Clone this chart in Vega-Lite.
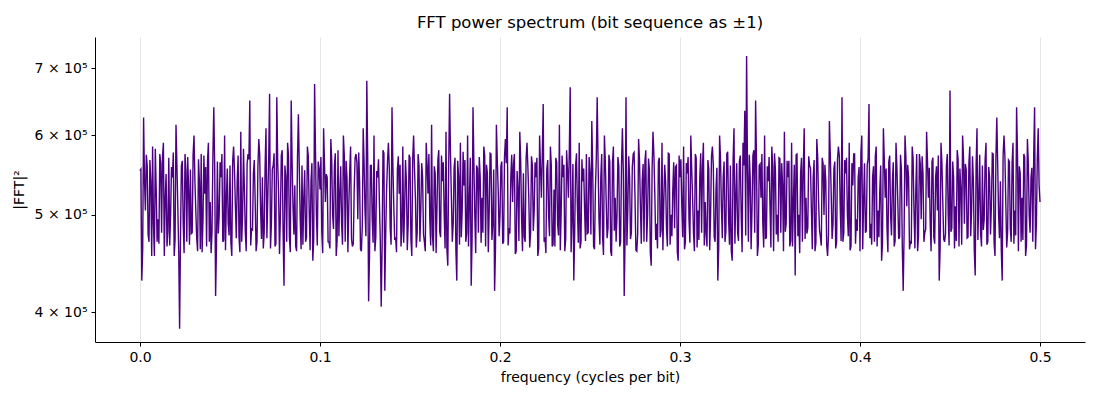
{
  "$schema": "https://vega.github.io/schema/vega-lite/v6.json",
  "width": 990,
  "height": 305,
  "autosize": "none",
  "padding": {"left": 95, "top": 37, "right": 15, "bottom": 58},
  "title": {
    "text": "FFT power spectrum (bit sequence as ±1)",
    "font": "DejaVu Sans",
    "fontSize": 16.5,
    "fontWeight": "normal",
    "color": "black",
    "offset": 6
  },
  "data": {
    "values": [
      {"f":0.000,"p":5.53e5},{"f":0.001,"p":4.30e5},{"f":0.002,"p":6.25e5},{"f":0.003,"p":5.05e5},{"f":0.004,"p":5.60e5},{"f":0.005,"p":4.70e5},{"f":0.006,"p":5.40e5},{"f":0.007,"p":5.85e5},{"f":0.008,"p":4.55e5},{"f":0.009,"p":5.30e5},
      {"f":0.010,"p":4.95e5},{"f":0.011,"p":5.75e5},{"f":0.012,"p":4.80e5},{"f":0.013,"p":5.90e5},{"f":0.014,"p":5.20e5},{"f":0.015,"p":4.65e5},{"f":0.016,"p":5.70e5},{"f":0.017,"p":5.00e5},{"f":0.018,"p":5.45e5},{"f":0.019,"p":4.55e5},
      {"f":0.020,"p":6.15e5},{"f":0.021,"p":5.10e5},{"f":0.022,"p":3.85e5},{"f":0.023,"p":5.60e5},{"f":0.024,"p":4.90e5},{"f":0.025,"p":5.75e5},{"f":0.026,"p":4.70e5},{"f":0.027,"p":5.30e5},{"f":0.028,"p":5.55e5},{"f":0.029,"p":4.80e5},
      {"f":0.030,"p":6.00e5},{"f":0.031,"p":5.05e5},{"f":0.032,"p":4.60e5},{"f":0.033,"p":5.40e5},{"f":0.034,"p":5.75e5},{"f":0.035,"p":4.95e5},{"f":0.036,"p":5.25e5},{"f":0.037,"p":4.65e5},{"f":0.038,"p":5.90e5},{"f":0.039,"p":5.15e5},
      {"f":0.040,"p":4.80e5},{"f":0.041,"p":6.40e5},{"f":0.042,"p":4.15e5},{"f":0.043,"p":5.65e5},{"f":0.044,"p":5.00e5},{"f":0.045,"p":5.45e5},{"f":0.046,"p":4.70e5},{"f":0.047,"p":6.00e5},{"f":0.048,"p":5.20e5},{"f":0.049,"p":4.90e5},
      {"f":0.050,"p":5.60e5},{"f":0.051,"p":4.55e5},{"f":0.052,"p":5.85e5},{"f":0.053,"p":5.10e5},{"f":0.054,"p":5.40e5},{"f":0.055,"p":4.75e5},{"f":0.056,"p":6.05e5},{"f":0.057,"p":5.00e5},{"f":0.058,"p":5.30e5},{"f":0.059,"p":4.60e5},
      {"f":0.060,"p":5.75e5},{"f":0.061,"p":6.50e5},{"f":0.062,"p":4.85e5},{"f":0.063,"p":5.50e5},{"f":0.064,"p":5.15e5},{"f":0.065,"p":4.70e5},{"f":0.066,"p":5.95e5},{"f":0.067,"p":5.05e5},{"f":0.068,"p":5.45e5},{"f":0.069,"p":4.80e5},
      {"f":0.070,"p":6.10e5},{"f":0.071,"p":5.20e5},{"f":0.072,"p":6.60e5},{"f":0.073,"p":4.90e5},{"f":0.074,"p":5.60e5},{"f":0.075,"p":4.65e5},{"f":0.076,"p":6.55e5},{"f":0.077,"p":5.25e5},{"f":0.078,"p":5.00e5},{"f":0.079,"p":5.80e5},
      {"f":0.080,"p":4.25e5},{"f":0.081,"p":5.45e5},{"f":0.082,"p":5.90e5},{"f":0.083,"p":4.75e5},{"f":0.084,"p":6.50e5},{"f":0.085,"p":5.10e5},{"f":0.086,"p":5.35e5},{"f":0.087,"p":4.60e5},{"f":0.088,"p":6.30e5},{"f":0.089,"p":4.95e5},
      {"f":0.090,"p":5.60e5},{"f":0.091,"p":5.20e5},{"f":0.092,"p":4.70e5},{"f":0.093,"p":5.85e5},{"f":0.094,"p":5.05e5},{"f":0.095,"p":5.40e5},{"f":0.096,"p":4.50e5},{"f":0.097,"p":6.75e5},{"f":0.098,"p":5.00e5},{"f":0.099,"p":5.65e5},
      {"f":0.100,"p":5.30e5},{"f":0.101,"p":4.80e5},{"f":0.102,"p":6.10e5},{"f":0.103,"p":5.15e5},{"f":0.104,"p":5.45e5},{"f":0.105,"p":4.70e5},{"f":0.106,"p":5.95e5},{"f":0.107,"p":5.00e5},{"f":0.108,"p":5.60e5},{"f":0.109,"p":4.55e5},
      {"f":0.110,"p":5.80e5},{"f":0.111,"p":5.25e5},{"f":0.112,"p":4.90e5},{"f":0.113,"p":6.00e5},{"f":0.114,"p":4.70e5},{"f":0.115,"p":5.45e5},{"f":0.116,"p":5.10e5},{"f":0.117,"p":5.85e5},{"f":0.118,"p":4.65e5},{"f":0.119,"p":5.30e5},
      {"f":0.120,"p":5.75e5},{"f":0.121,"p":4.95e5},{"f":0.122,"p":5.40e5},{"f":0.123,"p":4.60e5},{"f":0.124,"p":6.10e5},{"f":0.125,"p":5.05e5},{"f":0.126,"p":6.80e5},{"f":0.127,"p":4.10e5},{"f":0.128,"p":5.60e5},{"f":0.129,"p":4.95e5},
      {"f":0.130,"p":6.00e5},{"f":0.131,"p":4.75e5},{"f":0.132,"p":5.45e5},{"f":0.133,"p":5.15e5},{"f":0.134,"p":4.05e5},{"f":0.135,"p":5.80e5},{"f":0.136,"p":4.20e5},{"f":0.137,"p":5.30e5},{"f":0.138,"p":5.90e5},{"f":0.139,"p":4.85e5},
      {"f":0.140,"p":6.40e5},{"f":0.141,"p":5.10e5},{"f":0.142,"p":4.75e5},{"f":0.143,"p":5.55e5},{"f":0.144,"p":5.25e5},{"f":0.145,"p":4.65e5},{"f":0.146,"p":5.85e5},{"f":0.147,"p":5.05e5},{"f":0.148,"p":5.40e5},{"f":0.149,"p":4.90e5},
      {"f":0.150,"p":5.70e5},{"f":0.151,"p":4.55e5},{"f":0.152,"p":6.00e5},{"f":0.153,"p":5.20e5},{"f":0.154,"p":4.80e5},{"f":0.155,"p":5.60e5},{"f":0.156,"p":5.05e5},{"f":0.157,"p":5.45e5},{"f":0.158,"p":4.70e5},{"f":0.159,"p":5.90e5},
      {"f":0.160,"p":5.25e5},{"f":0.161,"p":4.95e5},{"f":0.162,"p":6.15e5},{"f":0.163,"p":4.60e5},{"f":0.164,"p":5.50e5},{"f":0.165,"p":5.10e5},{"f":0.166,"p":5.80e5},{"f":0.167,"p":4.75e5},{"f":0.168,"p":5.40e5},{"f":0.169,"p":5.00e5},
      {"f":0.170,"p":6.05e5},{"f":0.171,"p":4.45e5},{"f":0.172,"p":6.60e5},{"f":0.173,"p":5.20e5},{"f":0.174,"p":4.90e5},{"f":0.175,"p":5.70e5},{"f":0.176,"p":4.30e5},{"f":0.177,"p":5.45e5},{"f":0.178,"p":5.90e5},{"f":0.179,"p":5.05e5},
      {"f":0.180,"p":5.35e5},{"f":0.181,"p":4.70e5},{"f":0.182,"p":6.00e5},{"f":0.183,"p":5.15e5},{"f":0.184,"p":4.25e5},{"f":0.185,"p":6.40e5},{"f":0.186,"p":5.00e5},{"f":0.187,"p":5.60e5},{"f":0.188,"p":4.80e5},{"f":0.189,"p":5.45e5},
      {"f":0.190,"p":5.20e5},{"f":0.191,"p":5.85e5},{"f":0.192,"p":4.65e5},{"f":0.193,"p":5.50e5},{"f":0.194,"p":5.05e5},{"f":0.195,"p":5.75e5},{"f":0.196,"p":4.90e5},{"f":0.197,"p":4.20e5},{"f":0.198,"p":6.15e5},{"f":0.199,"p":5.30e5},
      {"f":0.200,"p":5.00e5},{"f":0.201,"p":5.65e5},{"f":0.202,"p":4.70e5},{"f":0.203,"p":5.95e5},{"f":0.204,"p":6.40e5},{"f":0.205,"p":4.85e5},{"f":0.206,"p":5.45e5},{"f":0.207,"p":5.15e5},{"f":0.208,"p":5.75e5},{"f":0.209,"p":4.60e5},
      {"f":0.210,"p":5.30e5},{"f":0.211,"p":6.05e5},{"f":0.212,"p":4.95e5},{"f":0.213,"p":5.50e5},{"f":0.214,"p":4.70e5},{"f":0.215,"p":5.90e5},{"f":0.216,"p":5.20e5},{"f":0.217,"p":4.80e5},{"f":0.218,"p":5.60e5},{"f":0.219,"p":5.05e5},
      {"f":0.220,"p":5.45e5},{"f":0.221,"p":4.55e5},{"f":0.222,"p":6.00e5},{"f":0.223,"p":5.20e5},{"f":0.224,"p":6.45e5},{"f":0.225,"p":4.75e5},{"f":0.226,"p":5.55e5},{"f":0.227,"p":5.00e5},{"f":0.228,"p":5.85e5},{"f":0.229,"p":4.65e5},
      {"f":0.230,"p":5.30e5},{"f":0.231,"p":5.70e5},{"f":0.232,"p":4.90e5},{"f":0.233,"p":6.15e5},{"f":0.234,"p":5.05e5},{"f":0.235,"p":5.45e5},{"f":0.236,"p":4.60e5},{"f":0.237,"p":5.80e5},{"f":0.238,"p":5.20e5},{"f":0.239,"p":6.70e5},
      {"f":0.240,"p":4.95e5},{"f":0.241,"p":4.30e5},{"f":0.242,"p":5.60e5},{"f":0.243,"p":5.10e5},{"f":0.244,"p":5.90e5},{"f":0.245,"p":4.70e5},{"f":0.246,"p":5.40e5},{"f":0.247,"p":5.05e5},{"f":0.248,"p":5.75e5},{"f":0.249,"p":4.80e5},
      {"f":0.250,"p":5.50e5},{"f":0.251,"p":6.20e5},{"f":0.252,"p":4.65e5},{"f":0.253,"p":5.30e5},{"f":0.254,"p":6.55e5},{"f":0.255,"p":4.95e5},{"f":0.256,"p":5.45e5},{"f":0.257,"p":4.75e5},{"f":0.258,"p":6.00e5},{"f":0.259,"p":5.15e5},
      {"f":0.260,"p":4.85e5},{"f":0.261,"p":5.65e5},{"f":0.262,"p":4.55e5},{"f":0.263,"p":5.85e5},{"f":0.264,"p":5.20e5},{"f":0.265,"p":5.00e5},{"f":0.266,"p":5.60e5},{"f":0.267,"p":4.70e5},{"f":0.268,"p":6.10e5},{"f":0.269,"p":4.15e5},
      {"f":0.270,"p":6.55e5},{"f":0.271,"p":5.05e5},{"f":0.272,"p":5.45e5},{"f":0.273,"p":4.80e5},{"f":0.274,"p":5.75e5},{"f":0.275,"p":5.20e5},{"f":0.276,"p":4.60e5},{"f":0.277,"p":5.95e5},{"f":0.278,"p":5.10e5},{"f":0.279,"p":5.40e5},
      {"f":0.280,"p":4.70e5},{"f":0.281,"p":5.80e5},{"f":0.282,"p":5.00e5},{"f":0.283,"p":5.55e5},{"f":0.284,"p":4.45e5},{"f":0.285,"p":6.05e5},{"f":0.286,"p":5.25e5},{"f":0.287,"p":4.90e5},{"f":0.288,"p":5.65e5},{"f":0.289,"p":4.75e5},
      {"f":0.290,"p":5.90e5},{"f":0.291,"p":5.15e5},{"f":0.292,"p":5.40e5},{"f":0.293,"p":4.65e5},{"f":0.294,"p":5.75e5},{"f":0.295,"p":5.00e5},{"f":0.296,"p":5.30e5},{"f":0.297,"p":4.85e5},{"f":0.298,"p":5.60e5},{"f":0.299,"p":4.50e5},
      {"f":0.300,"p":5.45e5},{"f":0.301,"p":5.10e5},{"f":0.302,"p":5.85e5},{"f":0.303,"p":4.70e5},{"f":0.304,"p":5.50e5},{"f":0.305,"p":4.95e5},{"f":0.306,"p":6.00e5},{"f":0.307,"p":5.20e5},{"f":0.308,"p":4.60e5},{"f":0.309,"p":5.70e5},
      {"f":0.310,"p":5.05e5},{"f":0.311,"p":5.45e5},{"f":0.312,"p":4.80e5},{"f":0.313,"p":5.90e5},{"f":0.314,"p":5.15e5},{"f":0.315,"p":4.65e5},{"f":0.316,"p":5.55e5},{"f":0.317,"p":5.00e5},{"f":0.318,"p":5.85e5},{"f":0.319,"p":4.75e5},
      {"f":0.320,"p":5.30e5},{"f":0.321,"p":4.30e5},{"f":0.322,"p":6.00e5},{"f":0.323,"p":5.10e5},{"f":0.324,"p":5.45e5},{"f":0.325,"p":4.70e5},{"f":0.326,"p":5.75e5},{"f":0.327,"p":4.95e5},{"f":0.328,"p":5.60e5},{"f":0.329,"p":4.50e5},
      {"f":0.330,"p":6.10e5},{"f":0.331,"p":5.20e5},{"f":0.332,"p":4.80e5},{"f":0.333,"p":5.65e5},{"f":0.334,"p":5.00e5},{"f":0.335,"p":5.90e5},{"f":0.336,"p":6.35e5},{"f":0.337,"p":7.20e5},{"f":0.338,"p":4.70e5},{"f":0.339,"p":5.45e5},
      {"f":0.340,"p":5.05e5},{"f":0.341,"p":5.80e5},{"f":0.342,"p":6.50e5},{"f":0.343,"p":4.55e5},{"f":0.344,"p":5.60e5},{"f":0.345,"p":5.20e5},{"f":0.346,"p":4.90e5},{"f":0.347,"p":6.00e5},{"f":0.348,"p":4.75e5},{"f":0.349,"p":5.40e5},
      {"f":0.350,"p":5.10e5},{"f":0.351,"p":5.85e5},{"f":0.352,"p":4.60e5},{"f":0.353,"p":5.55e5},{"f":0.354,"p":5.00e5},{"f":0.355,"p":5.70e5},{"f":0.356,"p":4.80e5},{"f":0.357,"p":5.35e5},{"f":0.358,"p":6.05e5},{"f":0.359,"p":4.90e5},
      {"f":0.360,"p":5.45e5},{"f":0.361,"p":4.65e5},{"f":0.362,"p":5.90e5},{"f":0.363,"p":5.15e5},{"f":0.364,"p":4.35e5},{"f":0.365,"p":5.75e5},{"f":0.366,"p":5.00e5},{"f":0.367,"p":5.50e5},{"f":0.368,"p":4.70e5},{"f":0.369,"p":6.10e5},
      {"f":0.370,"p":5.20e5},{"f":0.371,"p":4.85e5},{"f":0.372,"p":5.60e5},{"f":0.373,"p":5.05e5},{"f":0.374,"p":5.45e5},{"f":0.375,"p":4.60e5},{"f":0.376,"p":5.95e5},{"f":0.377,"p":5.15e5},{"f":0.378,"p":4.75e5},{"f":0.379,"p":5.70e5},
      {"f":0.380,"p":5.00e5},{"f":0.381,"p":5.40e5},{"f":0.382,"p":4.55e5},{"f":0.383,"p":6.20e5},{"f":0.384,"p":5.25e5},{"f":0.385,"p":4.90e5},{"f":0.386,"p":5.65e5},{"f":0.387,"p":4.70e5},{"f":0.388,"p":5.85e5},{"f":0.389,"p":5.10e5},
      {"f":0.390,"p":6.55e5},{"f":0.391,"p":4.80e5},{"f":0.392,"p":5.50e5},{"f":0.393,"p":5.00e5},{"f":0.394,"p":5.90e5},{"f":0.395,"p":4.65e5},{"f":0.396,"p":5.35e5},{"f":0.397,"p":5.75e5},{"f":0.398,"p":4.95e5},{"f":0.399,"p":5.45e5},
      {"f":0.400,"p":4.60e5},{"f":0.401,"p":6.00e5},{"f":0.402,"p":5.15e5},{"f":0.403,"p":4.80e5},{"f":0.404,"p":5.60e5},{"f":0.405,"p":6.45e5},{"f":0.406,"p":4.90e5},{"f":0.407,"p":5.45e5},{"f":0.408,"p":4.70e5},{"f":0.409,"p":5.85e5},
      {"f":0.410,"p":5.05e5},{"f":0.411,"p":5.30e5},{"f":0.412,"p":4.50e5},{"f":0.413,"p":6.10e5},{"f":0.414,"p":5.20e5},{"f":0.415,"p":4.85e5},{"f":0.416,"p":5.65e5},{"f":0.417,"p":5.00e5},{"f":0.418,"p":5.40e5},{"f":0.419,"p":4.65e5},
      {"f":0.420,"p":5.90e5},{"f":0.421,"p":5.15e5},{"f":0.422,"p":4.75e5},{"f":0.423,"p":5.55e5},{"f":0.424,"p":4.20e5},{"f":0.425,"p":6.00e5},{"f":0.426,"p":5.10e5},{"f":0.427,"p":5.45e5},{"f":0.428,"p":4.70e5},{"f":0.429,"p":5.85e5},
      {"f":0.430,"p":5.05e5},{"f":0.431,"p":5.30e5},{"f":0.432,"p":4.60e5},{"f":0.433,"p":5.75e5},{"f":0.434,"p":4.95e5},{"f":0.435,"p":5.50e5},{"f":0.436,"p":4.80e5},{"f":0.437,"p":6.05e5},{"f":0.438,"p":5.20e5},{"f":0.439,"p":4.90e5},
      {"f":0.440,"p":5.65e5},{"f":0.441,"p":4.75e5},{"f":0.442,"p":5.45e5},{"f":0.443,"p":5.05e5},{"f":0.444,"p":4.30e5},{"f":0.445,"p":5.90e5},{"f":0.446,"p":5.15e5},{"f":0.447,"p":4.70e5},{"f":0.448,"p":5.60e5},{"f":0.449,"p":5.00e5},
      {"f":0.450,"p":6.65e5},{"f":0.451,"p":4.85e5},{"f":0.452,"p":5.45e5},{"f":0.453,"p":5.10e5},{"f":0.454,"p":5.80e5},{"f":0.455,"p":4.65e5},{"f":0.456,"p":5.30e5},{"f":0.457,"p":6.00e5},{"f":0.458,"p":4.90e5},{"f":0.459,"p":5.55e5},
      {"f":0.460,"p":4.75e5},{"f":0.461,"p":5.85e5},{"f":0.462,"p":5.05e5},{"f":0.463,"p":5.40e5},{"f":0.464,"p":4.35e5},{"f":0.465,"p":6.10e5},{"f":0.466,"p":5.20e5},{"f":0.467,"p":4.80e5},{"f":0.468,"p":5.60e5},{"f":0.469,"p":4.95e5},
      {"f":0.470,"p":5.90e5},{"f":0.471,"p":4.70e5},{"f":0.472,"p":5.45e5},{"f":0.473,"p":5.10e5},{"f":0.474,"p":5.75e5},{"f":0.475,"p":4.55e5},{"f":0.476,"p":6.25e5},{"f":0.477,"p":5.00e5},{"f":0.478,"p":5.40e5},{"f":0.479,"p":4.30e5},
      {"f":0.480,"p":6.00e5},{"f":0.481,"p":5.15e5},{"f":0.482,"p":4.80e5},{"f":0.483,"p":5.65e5},{"f":0.484,"p":4.70e5},{"f":0.485,"p":5.90e5},{"f":0.486,"p":5.05e5},{"f":0.487,"p":6.40e5},{"f":0.488,"p":4.60e5},{"f":0.489,"p":5.50e5},
      {"f":0.490,"p":5.20e5},{"f":0.491,"p":5.75e5},{"f":0.492,"p":4.55e5},{"f":0.493,"p":5.95e5},{"f":0.494,"p":5.00e5},{"f":0.495,"p":5.45e5},{"f":0.496,"p":4.70e5},{"f":0.497,"p":6.40e5},{"f":0.498,"p":4.90e5},{"f":0.499,"p":6.10e5},
      {"f":0.500,"p":5.15e5},
      {"f":0.0005,"p":5.55e5},{"f":0.0015,"p":4.62e5},{"f":0.0025,"p":5.41e5},{"f":0.0035,"p":5.74e5},{"f":0.0045,"p":4.78e5},{"f":0.0055,"p":5.67e5},{"f":0.0065,"p":4.55e5},{"f":0.0075,"p":4.89e5},{"f":0.0085,"p":5.82e5},{"f":0.0095,"p":4.70e5},
      {"f":0.0105,"p":4.68e5},{"f":0.0115,"p":5.63e5},{"f":0.0125,"p":5.71e5},{"f":0.0135,"p":4.55e5},{"f":0.0145,"p":5.49e5},{"f":0.0155,"p":4.82e5},{"f":0.0165,"p":4.66e5},{"f":0.0175,"p":5.58e5},{"f":0.0185,"p":5.77e5},{"f":0.0195,"p":4.73e5},
      {"f":0.0205,"p":5.62e5},{"f":0.0215,"p":4.61e5},{"f":0.0225,"p":4.76e5},{"f":0.0235,"p":5.66e5},{"f":0.0245,"p":4.58e5},{"f":0.0255,"p":5.53e5},{"f":0.0265,"p":5.71e5},{"f":0.0275,"p":4.67e5},{"f":0.0285,"p":4.79e5},{"f":0.0295,"p":5.74e5},
      {"f":0.0305,"p":5.41e5},{"f":0.0315,"p":4.74e5},{"f":0.0325,"p":5.68e5},{"f":0.0335,"p":4.62e5},{"f":0.0345,"p":4.59e5},{"f":0.0355,"p":5.73e5},{"f":0.0365,"p":5.58e5},{"f":0.0375,"p":5.66e5},{"f":0.0385,"p":4.70e5},{"f":0.0395,"p":4.58e5},
      {"f":0.0405,"p":5.73e5},{"f":0.0415,"p":5.58e5},{"f":0.0425,"p":4.66e5},{"f":0.0435,"p":4.79e5},{"f":0.0445,"p":5.64e5},{"f":0.0455,"p":5.75e5},{"f":0.0465,"p":4.72e5},{"f":0.0475,"p":4.61e5},{"f":0.0485,"p":5.56e5},{"f":0.0495,"p":4.77e5},
      {"f":0.0505,"p":4.69e5},{"f":0.0515,"p":5.66e5},{"f":0.0525,"p":5.54e5},{"f":0.0535,"p":4.74e5},{"f":0.0545,"p":5.73e5},{"f":0.0555,"p":4.59e5},{"f":0.0565,"p":4.70e5},{"f":0.0575,"p":5.82e5},{"f":0.0585,"p":4.81e5},{"f":0.0595,"p":5.62e5},
      {"f":0.0605,"p":5.68e5},{"f":0.0615,"p":4.66e5},{"f":0.0625,"p":4.82e5},{"f":0.0635,"p":5.67e5},{"f":0.0645,"p":4.60e5},{"f":0.0655,"p":5.57e5},{"f":0.0665,"p":5.74e5},{"f":0.0675,"p":4.73e5},{"f":0.0685,"p":4.63e5},{"f":0.0695,"p":5.59e5},
      {"f":0.0705,"p":4.74e5},{"f":0.0715,"p":5.69e5},{"f":0.0725,"p":4.63e5},{"f":0.0735,"p":5.55e5},{"f":0.0745,"p":5.76e5},{"f":0.0755,"p":4.68e5},{"f":0.0765,"p":5.64e5},{"f":0.0775,"p":4.57e5},{"f":0.0785,"p":5.73e5},{"f":0.0795,"p":4.80e5},
      {"f":0.0805,"p":5.60e5},{"f":0.0815,"p":4.70e5},{"f":0.0825,"p":5.73e5},{"f":0.0835,"p":4.59e5},{"f":0.0845,"p":5.66e5},{"f":0.0855,"p":4.78e5},{"f":0.0865,"p":4.65e5},{"f":0.0875,"p":5.71e5},{"f":0.0885,"p":5.57e5},{"f":0.0895,"p":4.62e5},
      {"f":0.0905,"p":4.67e5},{"f":0.0915,"p":5.54e5},{"f":0.0925,"p":4.75e5},{"f":0.0935,"p":5.72e5},{"f":0.0945,"p":4.61e5},{"f":0.0955,"p":5.63e5},{"f":0.0965,"p":4.72e5},{"f":0.0975,"p":5.78e5},{"f":0.0985,"p":4.66e5},{"f":0.0995,"p":5.56e5},
      {"f":0.1005,"p":5.71e5},{"f":0.1015,"p":4.58e5},{"f":0.1025,"p":5.62e5},{"f":0.1035,"p":5.49e5},{"f":0.1045,"p":4.70e5},{"f":0.1055,"p":4.63e5},{"f":0.1065,"p":5.68e5},{"f":0.1075,"p":4.84e5},{"f":0.1085,"p":5.76e5},{"f":0.1095,"p":4.71e5},
      {"f":0.1105,"p":4.76e5},{"f":0.1115,"p":5.59e5},{"f":0.1125,"p":4.67e5},{"f":0.1135,"p":5.73e5},{"f":0.1145,"p":5.66e5},{"f":0.1155,"p":4.59e5},{"f":0.1165,"p":5.52e5},{"f":0.1175,"p":4.73e5},{"f":0.1185,"p":4.68e5},{"f":0.1195,"p":5.70e5},
      {"f":0.1205,"p":5.64e5},{"f":0.1215,"p":5.77e5},{"f":0.1225,"p":4.62e5},{"f":0.1235,"p":4.88e5},{"f":0.1245,"p":5.63e5},{"f":0.1255,"p":4.76e5},{"f":0.1265,"p":5.71e5},{"f":0.1275,"p":4.55e5},{"f":0.1285,"p":5.60e5},{"f":0.1295,"p":4.69e5},
      {"f":0.1305,"p":4.60e5},{"f":0.1315,"p":5.53e5},{"f":0.1325,"p":5.68e5},{"f":0.1335,"p":4.71e5},{"f":0.1345,"p":4.64e5},{"f":0.1355,"p":5.76e5},{"f":0.1365,"p":4.78e5},{"f":0.1375,"p":5.65e5},{"f":0.1385,"p":5.57e5},{"f":0.1395,"p":4.67e5},
      {"f":0.1405,"p":5.58e5},{"f":0.1415,"p":4.72e5},{"f":0.1425,"p":4.59e5},{"f":0.1435,"p":5.72e5},{"f":0.1445,"p":5.61e5},{"f":0.1455,"p":4.83e5},{"f":0.1465,"p":4.69e5},{"f":0.1475,"p":5.67e5},{"f":0.1485,"p":4.61e5},{"f":0.1495,"p":5.74e5},
      {"f":0.1505,"p":4.73e5},{"f":0.1515,"p":5.69e5},{"f":0.1525,"p":5.56e5},{"f":0.1535,"p":4.64e5},{"f":0.1545,"p":5.75e5},{"f":0.1555,"p":4.70e5},{"f":0.1565,"p":5.63e5},{"f":0.1575,"p":4.78e5},{"f":0.1585,"p":4.60e5},{"f":0.1595,"p":5.61e5},
      {"f":0.1605,"p":5.75e5},{"f":0.1615,"p":4.66e5},{"f":0.1625,"p":4.77e5},{"f":0.1635,"p":5.59e5},{"f":0.1645,"p":4.58e5},{"f":0.1655,"p":5.68e5},{"f":0.1665,"p":4.81e5},{"f":0.1675,"p":5.73e5},{"f":0.1685,"p":5.64e5},{"f":0.1695,"p":4.63e5},
      {"f":0.1705,"p":4.62e5},{"f":0.1715,"p":5.60e5},{"f":0.1725,"p":5.74e5},{"f":0.1735,"p":4.70e5},{"f":0.1745,"p":5.57e5},{"f":0.1755,"p":4.61e5},{"f":0.1765,"p":5.66e5},{"f":0.1775,"p":4.67e5},{"f":0.1785,"p":4.75e5},{"f":0.1795,"p":5.78e5},
      {"f":0.1805,"p":5.67e5},{"f":0.1815,"p":4.79e5},{"f":0.1825,"p":4.65e5},{"f":0.1835,"p":5.70e5},{"f":0.1845,"p":4.74e5},{"f":0.1855,"p":5.62e5},{"f":0.1865,"p":4.58e5},{"f":0.1875,"p":5.56e5},{"f":0.1885,"p":5.71e5},{"f":0.1895,"p":4.69e5},
      {"f":0.1905,"p":4.80e5},{"f":0.1915,"p":5.73e5},{"f":0.1925,"p":5.61e5},{"f":0.1935,"p":4.59e5},{"f":0.1945,"p":5.76e5},{"f":0.1955,"p":4.72e5},{"f":0.1965,"p":5.55e5},{"f":0.1975,"p":4.63e5},{"f":0.1985,"p":5.67e5},{"f":0.1995,"p":4.76e5},
      {"f":0.2005,"p":5.59e5},{"f":0.2015,"p":4.68e5},{"f":0.2025,"p":5.71e5},{"f":0.2035,"p":5.63e5},{"f":0.2045,"p":4.66e5},{"f":0.2055,"p":4.79e5},{"f":0.2065,"p":5.74e5},{"f":0.2075,"p":5.62e5},{"f":0.2085,"p":4.57e5},{"f":0.2095,"p":5.53e5},
      {"f":0.2105,"p":4.71e5},{"f":0.2115,"p":5.66e5},{"f":0.2125,"p":4.60e5},{"f":0.2135,"p":4.75e5},{"f":0.2145,"p":5.69e5},{"f":0.2155,"p":5.57e5},{"f":0.2165,"p":4.64e5},{"f":0.2175,"p":5.72e5},{"f":0.2185,"p":4.82e5},{"f":0.2195,"p":5.64e5},
      {"f":0.2205,"p":5.70e5},{"f":0.2215,"p":4.63e5},{"f":0.2225,"p":5.58e5},{"f":0.2235,"p":5.75e5},{"f":0.2245,"p":4.70e5},{"f":0.2255,"p":4.58e5},{"f":0.2265,"p":5.67e5},{"f":0.2275,"p":4.76e5},{"f":0.2285,"p":5.60e5},{"f":0.2295,"p":4.67e5},
      {"f":0.2305,"p":4.65e5},{"f":0.2315,"p":5.64e5},{"f":0.2325,"p":4.77e5},{"f":0.2335,"p":4.61e5},{"f":0.2345,"p":5.73e5},{"f":0.2355,"p":5.61e5},{"f":0.2365,"p":4.73e5},{"f":0.2375,"p":5.54e5},{"f":0.2385,"p":5.78e5},{"f":0.2395,"p":4.59e5},
      {"f":0.2405,"p":5.62e5},{"f":0.2415,"p":4.81e5},{"f":0.2425,"p":5.76e5},{"f":0.2435,"p":4.69e5},{"f":0.2445,"p":4.63e5},{"f":0.2455,"p":5.68e5},{"f":0.2465,"p":5.56e5},{"f":0.2475,"p":4.71e5},{"f":0.2485,"p":4.79e5},{"f":0.2495,"p":5.71e5},
      {"f":0.2505,"p":4.78e5},{"f":0.2515,"p":5.57e5},{"f":0.2525,"p":4.62e5},{"f":0.2535,"p":5.69e5},{"f":0.2545,"p":5.63e5},{"f":0.2555,"p":4.67e5},{"f":0.2565,"p":5.75e5},{"f":0.2575,"p":4.56e5},{"f":0.2585,"p":5.66e5},{"f":0.2595,"p":4.74e5},
      {"f":0.2605,"p":5.74e5},{"f":0.2615,"p":4.60e5},{"f":0.2625,"p":5.64e5},{"f":0.2635,"p":4.82e5},{"f":0.2645,"p":4.70e5},{"f":0.2655,"p":5.71e5},{"f":0.2665,"p":4.65e5},{"f":0.2675,"p":5.60e5},{"f":0.2685,"p":5.53e5},{"f":0.2695,"p":4.77e5},
      {"f":0.2705,"p":4.66e5},{"f":0.2715,"p":5.72e5},{"f":0.2725,"p":4.73e5},{"f":0.2735,"p":5.58e5},{"f":0.2745,"p":5.77e5},{"f":0.2755,"p":4.61e5},{"f":0.2765,"p":4.79e5},{"f":0.2775,"p":5.67e5},{"f":0.2785,"p":4.68e5},{"f":0.2795,"p":5.62e5},
      {"f":0.2805,"p":5.65e5},{"f":0.2815,"p":4.70e5},{"f":0.2825,"p":5.69e5},{"f":0.2835,"p":4.59e5},{"f":0.2845,"p":5.55e5},{"f":0.2855,"p":5.74e5},{"f":0.2865,"p":4.72e5},{"f":0.2875,"p":4.63e5},{"f":0.2885,"p":5.70e5},{"f":0.2895,"p":4.83e5},
      {"f":0.2905,"p":4.61e5},{"f":0.2915,"p":5.61e5},{"f":0.2925,"p":4.84e5},{"f":0.2935,"p":5.76e5},{"f":0.2945,"p":4.67e5},{"f":0.2955,"p":4.76e5},{"f":0.2965,"p":5.64e5},{"f":0.2975,"p":5.58e5},{"f":0.2985,"p":4.59e5},{"f":0.2995,"p":5.73e5},
      {"f":0.3005,"p":5.68e5},{"f":0.3015,"p":4.75e5},{"f":0.3025,"p":4.62e5},{"f":0.3035,"p":5.63e5},{"f":0.3045,"p":5.71e5},{"f":0.3055,"p":4.69e5},{"f":0.3065,"p":5.56e5},{"f":0.3075,"p":4.80e5},{"f":0.3085,"p":5.75e5},{"f":0.3095,"p":4.64e5},
      {"f":0.3105,"p":4.72e5},{"f":0.3115,"p":5.76e5},{"f":0.3125,"p":5.59e5},{"f":0.3135,"p":4.66e5},{"f":0.3145,"p":4.78e5},{"f":0.3155,"p":5.67e5},{"f":0.3165,"p":4.61e5},{"f":0.3175,"p":5.72e5},{"f":0.3185,"p":5.61e5},{"f":0.3195,"p":4.70e5},
      {"f":0.3205,"p":5.57e5},{"f":0.3215,"p":4.63e5},{"f":0.3225,"p":5.70e5},{"f":0.3235,"p":4.74e5},{"f":0.3245,"p":5.65e5},{"f":0.3255,"p":4.82e5},{"f":0.3265,"p":5.78e5},{"f":0.3275,"p":4.67e5},{"f":0.3285,"p":4.60e5},{"f":0.3295,"p":5.68e5},
      {"f":0.3305,"p":4.68e5},{"f":0.3315,"p":5.63e5},{"f":0.3325,"p":4.71e5},{"f":0.3335,"p":5.73e5},{"f":0.3345,"p":4.59e5},{"f":0.3355,"p":5.60e5},{"f":0.3365,"p":4.77e5},{"f":0.3375,"p":5.54e5},{"f":0.3385,"p":5.74e5},{"f":0.3395,"p":4.62e5},
      {"f":0.3405,"p":5.73e5},{"f":0.3415,"p":4.80e5},{"f":0.3425,"p":5.67e5},{"f":0.3435,"p":4.67e5},{"f":0.3445,"p":5.62e5},{"f":0.3455,"p":5.75e5},{"f":0.3465,"p":4.64e5},{"f":0.3475,"p":4.73e5},{"f":0.3485,"p":5.59e5},{"f":0.3495,"p":5.71e5},
      {"f":0.3505,"p":4.64e5},{"f":0.3515,"p":5.58e5},{"f":0.3525,"p":5.76e5},{"f":0.3535,"p":4.78e5},{"f":0.3545,"p":4.70e5},{"f":0.3555,"p":5.69e5},{"f":0.3565,"p":5.63e5},{"f":0.3575,"p":4.60e5},{"f":0.3585,"p":4.81e5},{"f":0.3595,"p":5.66e5},
      {"f":0.3605,"p":5.66e5},{"f":0.3615,"p":4.71e5},{"f":0.3625,"p":4.65e5},{"f":0.3635,"p":5.61e5},{"f":0.3645,"p":5.74e5},{"f":0.3655,"p":4.76e5},{"f":0.3665,"p":4.58e5},{"f":0.3675,"p":5.70e5},{"f":0.3685,"p":5.57e5},{"f":0.3695,"p":4.73e5},
      {"f":0.3705,"p":4.79e5},{"f":0.3715,"p":5.72e5},{"f":0.3725,"p":5.57e5},{"f":0.3735,"p":4.62e5},{"f":0.3745,"p":5.67e5},{"f":0.3755,"p":4.69e5},{"f":0.3765,"p":5.71e5},{"f":0.3775,"p":4.83e5},{"f":0.3785,"p":4.66e5},{"f":0.3795,"p":5.62e5},
      {"f":0.3805,"p":5.61e5},{"f":0.3815,"p":4.66e5},{"f":0.3825,"p":4.78e5},{"f":0.3835,"p":5.74e5},{"f":0.3845,"p":4.73e5},{"f":0.3855,"p":5.56e5},{"f":0.3865,"p":4.63e5},{"f":0.3875,"p":5.68e5},{"f":0.3885,"p":5.73e5},{"f":0.3895,"p":4.71e5},
      {"f":0.3905,"p":4.70e5},{"f":0.3915,"p":5.67e5},{"f":0.3925,"p":5.70e5},{"f":0.3935,"p":4.76e5},{"f":0.3945,"p":4.61e5},{"f":0.3955,"p":5.63e5},{"f":0.3965,"p":5.75e5},{"f":0.3975,"p":4.68e5},{"f":0.3985,"p":4.82e5},{"f":0.3995,"p":5.58e5},
      {"f":0.4005,"p":5.76e5},{"f":0.4015,"p":4.62e5},{"f":0.4025,"p":5.63e5},{"f":0.4035,"p":4.82e5},{"f":0.4045,"p":5.69e5},{"f":0.4055,"p":4.74e5},{"f":0.4065,"p":4.67e5},{"f":0.4075,"p":5.59e5},{"f":0.4085,"p":5.72e5},{"f":0.4095,"p":4.65e5},
      {"f":0.4105,"p":4.75e5},{"f":0.4115,"p":5.60e5},{"f":0.4125,"p":4.68e5},{"f":0.4135,"p":5.68e5},{"f":0.4145,"p":5.56e5},{"f":0.4155,"p":4.59e5},{"f":0.4165,"p":5.73e5},{"f":0.4175,"p":4.77e5},{"f":0.4185,"p":5.64e5},{"f":0.4195,"p":4.71e5},
      {"f":0.4205,"p":5.58e5},{"f":0.4215,"p":4.73e5},{"f":0.4225,"p":5.74e5},{"f":0.4235,"p":4.65e5},{"f":0.4245,"p":4.79e5},{"f":0.4255,"p":5.71e5},{"f":0.4265,"p":5.61e5},{"f":0.4275,"p":4.62e5},{"f":0.4285,"p":4.69e5},{"f":0.4295,"p":5.69e5},
      {"f":0.4305,"p":4.63e5},{"f":0.4315,"p":5.75e5},{"f":0.4325,"p":4.76e5},{"f":0.4335,"p":5.62e5},{"f":0.4345,"p":5.72e5},{"f":0.4355,"p":4.70e5},{"f":0.4365,"p":4.84e5},{"f":0.4375,"p":5.66e5},{"f":0.4385,"p":5.57e5},{"f":0.4395,"p":4.60e5},
      {"f":0.4405,"p":5.70e5},{"f":0.4415,"p":4.68e5},{"f":0.4425,"p":5.59e5},{"f":0.4435,"p":5.73e5},{"f":0.4445,"p":4.61e5},{"f":0.4455,"p":5.64e5},{"f":0.4465,"p":4.73e5},{"f":0.4475,"p":4.79e5},{"f":0.4485,"p":5.75e5},{"f":0.4495,"p":4.66e5},
      {"f":0.4505,"p":4.81e5},{"f":0.4515,"p":5.65e5},{"f":0.4525,"p":4.63e5},{"f":0.4535,"p":4.71e5},{"f":0.4545,"p":5.68e5},{"f":0.4555,"p":5.56e5},{"f":0.4565,"p":4.67e5},{"f":0.4575,"p":5.71e5},{"f":0.4585,"p":5.62e5},{"f":0.4595,"p":4.74e5},
      {"f":0.4605,"p":5.63e5},{"f":0.4615,"p":4.76e5},{"f":0.4625,"p":5.72e5},{"f":0.4635,"p":4.60e5},{"f":0.4645,"p":5.60e5},{"f":0.4655,"p":4.72e5},{"f":0.4665,"p":5.74e5},{"f":0.4675,"p":4.65e5},{"f":0.4685,"p":4.83e5},{"f":0.4695,"p":5.67e5},
      {"f":0.4705,"p":4.67e5},{"f":0.4715,"p":5.58e5},{"f":0.4725,"p":4.78e5},{"f":0.4735,"p":5.76e5},{"f":0.4745,"p":4.69e5},{"f":0.4755,"p":5.69e5},{"f":0.4765,"p":5.61e5},{"f":0.4775,"p":4.74e5},{"f":0.4785,"p":4.61e5},{"f":0.4795,"p":5.73e5},
      {"f":0.4805,"p":5.72e5},{"f":0.4815,"p":4.64e5},{"f":0.4825,"p":5.67e5},{"f":0.4835,"p":4.85e5},{"f":0.4845,"p":5.63e5},{"f":0.4855,"p":4.68e5},{"f":0.4865,"p":4.77e5},{"f":0.4875,"p":5.75e5},{"f":0.4885,"p":5.59e5},{"f":0.4895,"p":4.70e5},
      {"f":0.4905,"p":4.72e5},{"f":0.4915,"p":5.71e5},{"f":0.4925,"p":4.66e5},{"f":0.4935,"p":5.64e5},{"f":0.4945,"p":4.80e5},{"f":0.4955,"p":5.57e5},{"f":0.4965,"p":5.73e5},{"f":0.4975,"p":4.62e5},{"f":0.4985,"p":5.68e5},{"f":0.4995,"p":5.35e5}
    ]
  },
  "mark": {"type": "line", "color": "#4b0082", "strokeWidth": 1.4},
  "encoding": {
    "x": {
      "field": "f",
      "type": "quantitative",
      "title": "frequency (cycles per bit)",
      "scale": {"domain": [-0.025, 0.525], "nice": false, "zero": false},
      "axis": {
        "values": [0, 0.1, 0.2, 0.3, 0.4, 0.5],
        "format": ".1f",
        "grid": true,
        "gridColor": "#e6e6e6",
        "gridWidth": 1
      }
    },
    "y": {
      "field": "p",
      "type": "quantitative",
      "title": "|FFT|²",
      "scale": {"type": "log", "domain": [373500, 752000], "nice": false, "zero": false},
      "axis": {
        "values": [400000, 500000, 600000, 700000],
        "labelExpr": "(datum.value / 100000) + ' × 10⁵'",
        "grid": false
      }
    }
  },
  "config": {
    "view": {"stroke": null},
    "font": "DejaVu Sans",
    "axis": {
      "domainColor": "black",
      "domainWidth": 1,
      "tickColor": "black",
      "tickSize": 4,
      "labelColor": "black",
      "labelFont": "DejaVu Sans",
      "labelFontSize": 14,
      "labelPadding": 4,
      "titleColor": "black",
      "titleFont": "DejaVu Sans",
      "titleFontSize": 14,
      "titleFontWeight": "normal"
    },
    "axisX": {"titlePadding": 6},
    "axisY": {"titlePadding": 8}
  }
}
